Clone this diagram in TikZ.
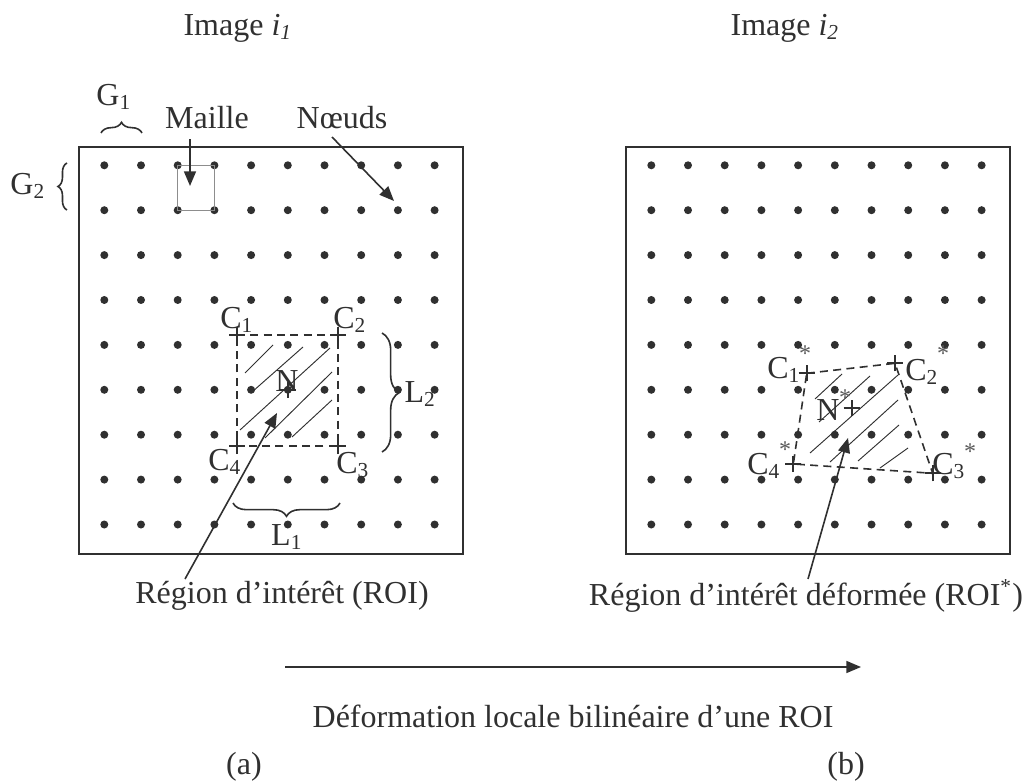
\documentclass[tikz,border=0pt]{standalone}
\usepackage{fontspec}
\setmainfont{Liberation Serif}
\usetikzlibrary{arrows.meta,decorations.pathreplacing}
\definecolor{ink}{HTML}{303030}
\begin{document}
\begin{tikzpicture}[x=0.375pt,y=-0.375pt,
  font=\fontsize{12}{14}\selectfont,
  dot/.style={circle,fill=ink,inner sep=0pt,minimum size=3pt},
  lbl/.style={inner sep=0pt,text=ink},
  star/.style={inner sep=0pt,text=ink!80,font=\fontsize{9}{9}\selectfont},
  framebox/.style={draw=ink,line width=0.8pt},
  roi/.style={draw=ink,line width=0.6pt,dash pattern=on 3pt off 2pt},
  hatch/.style={draw=ink,line width=0.35pt},
  arr/.style={draw=ink,line width=0.6pt,-{Triangle[length=5.5pt,width=4.5pt]}},
  crossmark/.style={draw=ink,line width=0.75pt},
  bracedec/.style={draw=ink,line width=0.6pt,decorate,decoration={brace,amplitude=#1}},
]
\useasboundingbox (0,0) rectangle (1032,782);

% frames
\draw[framebox] (79,147) rectangle (463,554);
\draw[framebox] (626,147) rectangle (1010,554);

% grid nodes
\foreach \i in {0,...,9}{
  \foreach \j in {0,...,8}{
    \node[dot] (dl-\i-\j) at ({104.3+36.7*\i},{165.3+44.9*\j}) {};
    \node[dot] (dr-\i-\j) at ({651.3+36.7*\i},{165.3+44.9*\j}) {};
  }
}

% titles
\node[lbl] (titleA) at (238,28) {Image \textit{i}\textsubscript{\textit{1}}};
\node[lbl] (titleB) at (785,28) {Image \textit{i}\textsubscript{\textit{2}}};

% G1, G2
\node[lbl] (g1) at (114,97) {G\textsubscript{1}};
\draw[bracedec=4pt] (101,133) -- (142,133);
\node[lbl] (g2) at (28,186) {G\textsubscript{2}};
\draw[bracedec=3.4pt] (67,210) -- (67,163);

% Maille
\draw[draw=ink!55,line width=0.45pt] (dl-2-0.center) rectangle (dl-3-1.center);
\node[lbl] (maille) at (207,118) {Maille};
\coordinate (mailleTip) at (190,186);
\draw[arr] ([yshift=-3.5pt]maille.south -| mailleTip) -- (mailleTip);

% Noeuds
\node[lbl] (noeuds) at (342,118) {Nœuds};
\coordinate (noeudsStart) at (332,137);
\coordinate (noeudsTip) at (394,201);
\draw[arr] (noeudsStart) -- (noeudsTip);

% ---------- left ROI ----------
\coordinate (c1) at (237,335);
\coordinate (c2) at (338,335);
\coordinate (c3) at (338,446);
\coordinate (c4) at (237,446);
\coordinate (nn) at (dl-5-5.center);
\draw[roi] (c1) -- (c2) -- (c3) -- (c4) -- cycle;
\draw[hatch] (245,373) -- (273,345);
\draw[hatch] (252,392) -- (303,347);
\draw[hatch] (240,430) -- (330,348);
\draw[hatch] (265,438) -- (332,372);
\draw[hatch] (292,437) -- (332,400);
\foreach \p in {c1,c2,c3,c4}{
  \draw[crossmark] ([xshift=-3pt]\p) -- ([xshift=3pt]\p);
  \draw[crossmark] ([yshift=-3pt]\p) -- ([yshift=3pt]\p);
}
\draw[crossmark] ([xshift=-3pt]nn) -- ([xshift=3pt]nn);
\draw[crossmark] ([yshift=-3pt]nn) -- ([yshift=3pt]nn);
\node[lbl] (lc1) at (237,320) {C\textsubscript{1}};
\node[lbl] (lc2) at (350,320) {C\textsubscript{2}};
\node[lbl] (lc3) at (353,465) {C\textsubscript{3}};
\node[lbl] (lc4) at (225,462) {C\textsubscript{4}};
\node[lbl] (ln) at (287,381) {N};

% L1, L2 braces
\draw[bracedec=6.5pt] (382,333) -- (382,452);
\node[lbl,anchor=west] (l2) at (404,394) {L\textsubscript{2}};
\draw[bracedec=5pt] (340,503) -- (233,503);
\node[lbl] (l1) at (287,537) {L\textsubscript{1}};

% ROI label + arrow
\node[lbl] (roiA) at (282,596) {Région d’intérêt (ROI)};
\coordinate (roiAstart) at (185,579);
\coordinate (roiAtip) at (277,413);
\draw[arr] (roiAstart) -- (roiAtip);

% ---------- right ROI ----------
\coordinate (d1) at (806.7,373.3);
\coordinate (d2) at (895,363.3);
\coordinate (d3) at (932.7,473.3);
\coordinate (d4) at (793.3,464);
\coordinate (dn) at (851.7,408.3);
\draw[roi] (d1) -- (d2) -- (d3) -- (d4) -- cycle;
\draw[hatch] (815,399) -- (842,374);
\draw[hatch] (819,422) -- (870,376);
\draw[hatch] (810,453) -- (898,375);
\draw[hatch] (830,462) -- (898,400);
\draw[hatch] (858,461) -- (899,425);
\draw[hatch] (880,468) -- (908,448);
\foreach \p in {d1,d2,d3,d4,dn}{
  \draw[crossmark] ([xshift=-3pt]\p) -- ([xshift=3pt]\p);
  \draw[crossmark] ([yshift=-3pt]\p) -- ([yshift=3pt]\p);
}
\node[lbl] (ld1) at (784,370) {C\textsubscript{1}};
\node[lbl] (ld2) at (922,372) {C\textsubscript{2}};
\node[lbl] (ld3) at (949,466) {C\textsubscript{3}};
\node[lbl] (ld4) at (764,466) {C\textsubscript{4}};
\node[lbl] (ldn) at (828,410) {N};
\node[star] (s1) at (805,354) {*};
\node[star] (s2) at (943,354) {*};
\node[star] (s3) at (970,452) {*};
\node[star] (s4) at (785,450) {*};
\node[star] (sn) at (845,398) {*};

\node[lbl] (roiB) at (806,596) {Région d’intérêt déformée (ROI\textsuperscript{*})};
\coordinate (roiBstart) at (808,579);
\coordinate (roiBtip) at (848,438);
\draw[arr] (roiBstart) -- (roiBtip);

% bottom
\coordinate (defA) at (285,667);
\coordinate (defB) at (861,667);
\draw[arr] (defA) -- (defB);
\node[lbl] (defl) at (573,716) {Déformation locale bilinéaire d’une ROI};
\node[lbl] (suba) at (244,767) {(a)};
\node[lbl] (subb) at (846,767) {(b)};
\end{tikzpicture}
\end{document}
